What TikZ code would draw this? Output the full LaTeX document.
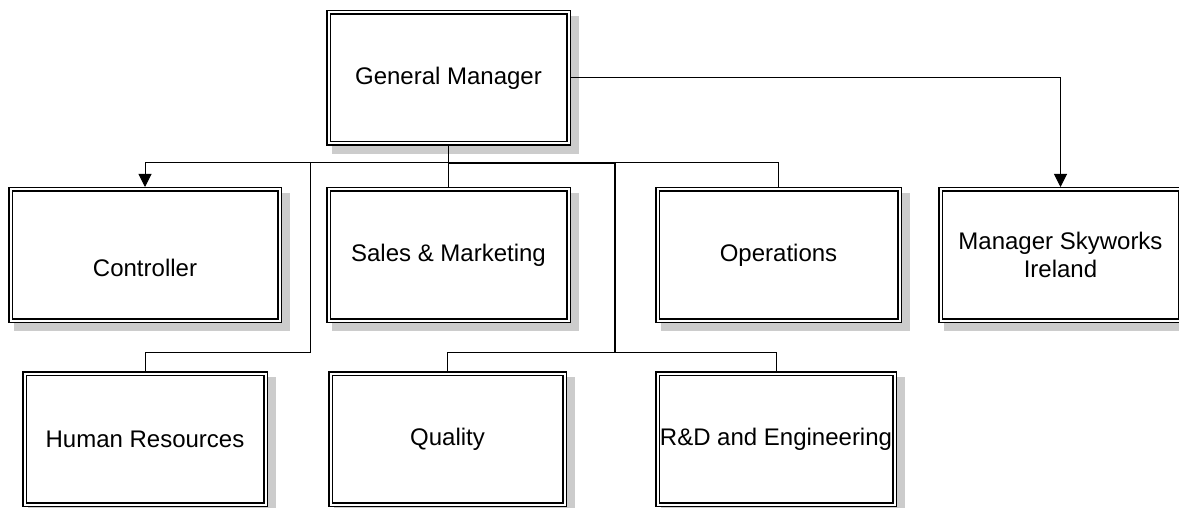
\documentclass[tikz,border=0pt]{standalone}
\usepackage{fontspec}
\setmainfont{Liberation Sans}
\usetikzlibrary{arrows.meta,backgrounds}

\begin{document}
\begin{tikzpicture}[x=1pt,y=-1pt,
        unit/.style={draw,fill=white,line width=1.5pt,double=white,double distance=2pt,
            outer sep=2.5pt,minimum height=131pt,inner sep=0pt,align=center,
            font=\fontsize{24}{28}\selectfont},
        link/.style={line width=1pt},
        trunk/.style={line width=1.8pt},
        tip/.style={-{Triangle[width=13pt,length=13pt]}}]
        \useasboundingbox (0,0) rectangle (1179,508);
        \node[unit,minimum width=240pt] (gm) at (448.5,78) {General Manager};
        \node[unit,minimum width=269pt,text height=42pt,text depth=0pt] (ctrl) at (145,255) {Controller};
        \node[unit,minimum width=240pt] (sales) at (448.5,255) {Sales \& Marketing};
        \node[unit,minimum width=242pt] (ops) at (778.5,255) {Operations};
        \node[unit,minimum width=240pt] (msi) at (1060.5,255) {Manager Skyworks\\Ireland};
        \node[unit,minimum width=241pt] (hr) at (145,439) {Human Resources};
        \node[unit,minimum width=234pt] (qual) at (447.5,439) {Quality};
        \node[unit,minimum width=237pt] (rnd) at (776,439) {R\&D and Engineering};
        \coordinate (split) at (448.5,163);
        \coordinate (leftjog) at (310,352);
        \coordinate (rightjog) at (615,352);
        \begin{scope}[on background layer]
            \foreach \n in {gm,ctrl,sales,ops,msi,hr,qual,rnd}
                \fill[black!20] ([shift={(6,6)}]\n.north west) rectangle ([shift={(8,8)}]\n.south east);
        \end{scope}
        \draw[link,tip] (gm.south) -- (split) -| (ctrl.north);
        \draw[link] (gm.south) -- (sales.north);
        \draw[link] (split) -| (ops.north);
        \draw[link] (split) -| (leftjog) -| (hr.north);
        \draw[link] (split) -| (rightjog) -| (qual.north);
        \draw[link] (rightjog) -| (rnd.north);
        \draw[trunk] (gm.south) -- (split) -| (rightjog);
        \draw[link,tip] (gm.east) -| (msi.north);
    \end{tikzpicture}
\end{document}
